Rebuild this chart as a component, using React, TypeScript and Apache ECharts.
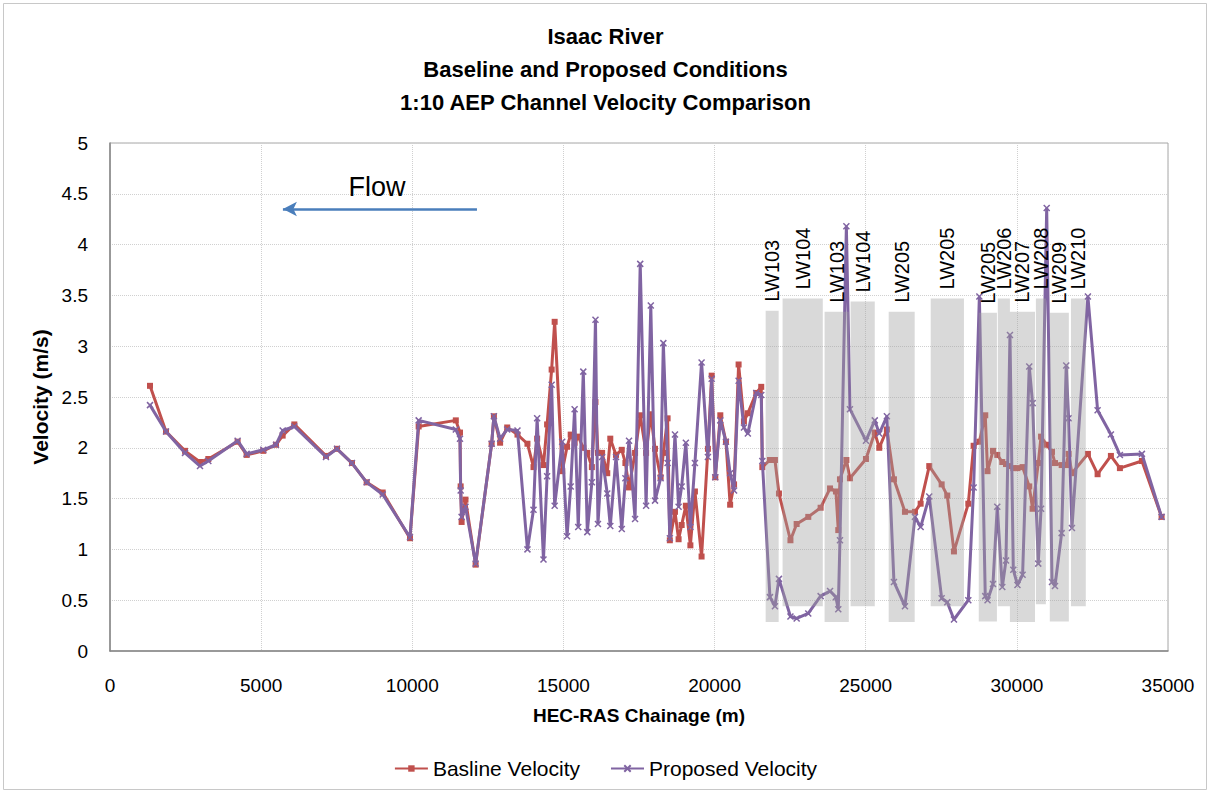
import React, { useEffect, useRef } from "react";
import * as echarts from "echarts";

// HEC-RAS chainage (m) of each cross-section
const CHAINAGE = [
  1323, 1852, 2481, 2977, 3253, 4222, 4520, 5072, 5491, 5712,
  6098, 7145, 7509, 8005, 8491, 9021, 9924, 10211, 11440, 11578,
  11600, 11632, 11760, 12095, 12625, 12700, 12905, 13140, 13480, 13810,
  14010, 14130, 14340, 14460, 14610, 14710, 14960, 15120, 15240, 15370,
  15490, 15657, 15790, 15941, 16060, 16142, 16280, 16450, 16550, 16740,
  16930, 17050, 17170, 17370, 17540, 17735, 17890, 18030, 18215, 18305,
  18446, 18520, 18690, 18810, 18911, 19050, 19200, 19350, 19570, 19780,
  19905, 20023, 20190, 20376, 20515, 20645, 20795, 20971, 21100, 21380,
  21544, 21580, 21832, 21997, 22130, 22510, 22715, 23100, 23508, 23820,
  24015, 24092, 24148, 24360, 24478, 25008, 25300, 25448, 25700, 25934,
  26298, 26629, 26817, 27102, 27512, 27698, 27919, 28394, 28570, 28760,
  28955, 29030, 29210, 29352, 29518, 29640, 29772, 29882, 30020, 30190,
  30410, 30521, 30708, 30800, 30987, 31163, 31261, 31482, 31633, 31712,
  31822, 32350, 32671, 33111, 33409, 34137, 34788,
];

const BASELINE = [
  2.61, 2.16, 1.97, 1.86, 1.89, 2.06, 1.93, 1.97, 2.03, 2.12,
  2.23, 1.92, 1.99, 1.85, 1.66, 1.56, 1.11, 2.21, 2.27, 2.15,
  1.62, 1.27, 1.49, 0.85, 2.04, 2.31, 2.05, 2.2, 2.13, 2.04,
  1.81, 2.09, 1.83, 2.23, 2.77, 3.24, 1.77, 2.01, 2.13, 2.05,
  2.11, 2.0, 1.95, 1.81, 2.45, 1.95, 1.95, 1.75, 2.09, 1.93,
  1.98, 1.85, 1.61, 1.95, 2.32, 1.95, 2.33, 1.99, 1.71, 1.95,
  2.29, 1.09, 1.37, 1.1, 1.24, 1.43, 1.04, 1.57, 0.93, 1.99,
  2.71, 1.71, 2.32, 2.06, 1.44, 1.64, 2.82, 2.26, 2.34, 2.54,
  2.6, 1.81, 1.88, 1.88, 1.55, 1.09, 1.25, 1.32, 1.41, 1.6,
  1.57, 1.19, 1.69, 1.88, 1.7, 1.89, 2.15, 2.0, 2.18, 1.69,
  1.37, 1.37, 1.45, 1.82, 1.64, 1.53, 0.98, 1.45, 2.02, 2.06,
  2.32, 1.77, 1.97, 1.93, 1.86, 1.84, 1.82, 1.8, 1.8, 1.81,
  1.62, 1.4, 1.85, 2.11, 2.03, 1.96, 1.85, 1.83, 1.83, 1.94,
  1.75, 1.94, 1.74, 1.92, 1.8, 1.87, 1.32,
];

const PROPOSED = [
  2.42, 2.16, 1.95, 1.82, 1.87, 2.07, 1.94, 1.98, 2.03, 2.17,
  2.21, 1.91, 1.99, 1.85, 1.66, 1.54, 1.12, 2.27, 2.18, 2.09,
  1.58, 1.32, 1.42, 0.86, 2.04, 2.31, 2.09, 2.18, 2.17, 1.0,
  1.39, 2.29, 0.9, 1.72, 2.62, 1.43, 2.06, 1.13, 1.62, 2.38,
  1.22, 2.75, 1.17, 1.66, 3.26, 1.25, 1.91, 1.55, 1.23, 1.91,
  1.2, 1.7, 2.07, 1.3, 3.81, 1.43, 3.4, 1.48, 1.7, 3.03,
  1.85, 1.11, 2.13, 1.42, 1.62, 2.05, 1.22, 1.85, 2.84, 1.91,
  2.68, 1.71, 2.27, 2.06, 1.75, 1.58, 2.66, 2.2, 2.14, 2.54,
  2.52, 1.87, 0.53, 0.44, 0.71, 0.34, 0.32, 0.37, 0.54, 0.59,
  0.53, 0.41, 1.09, 4.18, 2.38, 2.07, 2.27, 2.14, 2.31, 0.68,
  0.44, 1.32, 1.22, 1.52, 0.52, 0.48, 0.31, 0.5, 1.61, 3.49,
  0.54, 0.5, 0.66, 1.42, 0.63, 0.89, 3.11, 0.8, 0.65, 0.75,
  2.8, 2.44, 0.86, 1.4, 4.36, 0.68, 0.64, 1.16, 2.81, 2.29,
  1.21, 3.49, 2.37, 2.13, 1.93, 1.94, 1.32,
];

// Longwall panel zones (chainage range and shaded height)
const ZONE_START = [21690, 22250, 23640, 24500, 25760, 27150, 28740, 29370, 29770, 30630, 31090, 31790];
const ZONE_END = [22120, 23580, 24440, 25300, 26620, 28250, 29340, 29770, 30600, 30960, 31720, 32280];
const ZONE_BOTTOM = [0.285, 0.44, 0.285, 0.44, 0.285, 0.44, 0.29, 0.44, 0.285, 0.46, 0.29, 0.44];
const ZONE_TOP = [3.35, 3.47, 3.34, 3.44, 3.34, 3.47, 3.33, 3.47, 3.34, 3.47, 3.33, 3.47];
const ZONE_LABELS = ["LW103", "LW104", "LW103", "LW104", "LW205", "LW205", "LW205", "LW206", "LW207", "LW208", "LW209", "LW210"];

// Flow direction annotation
const FLOW_FROM = [12140, 4.35];
const FLOW_TO = [5720, 4.35];
const FLOW_TEXT_AT = [8830, 4.57];

const RED = "#C0504D";
const PURPLE = "#8064A2";
const FONT = "'Liberation Sans', Arial, sans-serif";

export default function App() {
  const ref = useRef<HTMLDivElement>(null);

  useEffect(() => {
    document.body.style.margin = "0";
    const chart = echarts.init(ref.current!, null, { renderer: "svg" });

    const option: any = {
      animation: false,
      backgroundColor: "#ffffff",
      textStyle: { fontFamily: FONT },
      title: {
        text: "Isaac River\nBaseline and Proposed Conditions\n1:10 AEP Channel Velocity Comparison",
        left: "center",
        top: 15,
        textStyle: { fontFamily: FONT, fontSize: 22, fontWeight: "bold", lineHeight: 33, color: "#000" },
      },
      graphic: [
        {
          type: "rect",
          shape: { x: 3.5, y: 3.5, width: 1203, height: 786 },
          style: { fill: "none", stroke: "#c8c8c8", lineWidth: 1 },
          silent: true,
        },
      ],
      legend: {
        data: ["Basline Velocity", "Proposed Velocity"],
        top: 753,
        left: "center",
        itemWidth: 33,
        itemHeight: 8,
        itemGap: 30,
        textStyle: { fontFamily: FONT, fontSize: 21, color: "#000" },
      },
      grid: {
        left: 110,
        right: 43,
        top: 143,
        bottom: 143,
        show: true,
        borderColor: "#a6a6a6",
        borderWidth: 1,
      },
      xAxis: {
        type: "value",
        min: 0,
        max: 35000,
        interval: 5000,
        name: "HEC-RAS Chainage (m)",
        nameLocation: "middle",
        nameGap: 55,
        nameTextStyle: { fontFamily: FONT, fontSize: 19, fontWeight: "bold", color: "#000" },
        axisLine: { show: true, lineStyle: { color: "#868686", width: 1.5 } },
        axisTick: { show: false },
        axisLabel: { fontSize: 19, color: "#000", margin: 25, formatter: (v: number) => String(v) },
        splitLine: { show: true, lineStyle: { color: "#d0d0d0", type: "dotted", width: 1 } },
      },
      yAxis: {
        type: "value",
        min: 0,
        max: 5,
        interval: 0.5,
        name: "Velocity (m/s)",
        nameLocation: "middle",
        nameGap: 58,
        nameTextStyle: { fontFamily: FONT, fontSize: 21, fontWeight: "bold", color: "#000" },
        axisLine: { show: true, lineStyle: { color: "#868686", width: 1.5 } },
        axisTick: { show: false },
        axisLabel: { fontSize: 19, color: "#000", margin: 22 },
        splitLine: { show: true, lineStyle: { color: "#d0d0d0", type: "dotted", width: 1 } },
      },
      series: [
        {
          name: "Basline Velocity",
          type: "line",
          z: 2,
          data: CHAINAGE.map((x, i) => [x, BASELINE[i]]),
          symbol: "rect",
          symbolSize: 6,
          showAllSymbol: true,
          lineStyle: { color: RED, width: 3 },
          itemStyle: { color: RED },
        },
        {
          name: "Proposed Velocity",
          type: "line",
          z: 3,
          data: CHAINAGE.map((x, i) => [x, PROPOSED[i]]),
          symbol: "path://M0 0L10 10M10 0L0 10",
          symbolSize: 6,
          showAllSymbol: true,
          lineStyle: { color: PURPLE, width: 3 },
          itemStyle: { color: PURPLE, borderColor: PURPLE, borderWidth: 1.5 },
        },
        {
          name: "zones",
          type: "custom",
          z: 10,
          silent: true,
          clip: false,
          encode: { x: [0, 1], y: [2, 3] },
          data: ZONE_START.map((x0, i) => [x0, ZONE_END[i], ZONE_BOTTOM[i], ZONE_TOP[i]]),
          renderItem: (params: any, api: any) => {
            const i = params.dataIndex;
            const p0 = api.coord([api.value(0), api.value(3)]);
            const p1 = api.coord([api.value(1), api.value(2)]);
            return {
              type: "group",
              children: [
                {
                  type: "rect",
                  shape: { x: p0[0], y: p0[1], width: p1[0] - p0[0], height: p1[1] - p0[1] },
                  style: { fill: "rgba(160,160,160,0.4)" },
                },
                {
                  type: "text",
                  x: (p0[0] + p1[0]) / 2,
                  y: p0[1] - 9,
                  rotation: Math.PI / 2,
                  style: {
                    text: ZONE_LABELS[i],
                    fill: "#000",
                    font: `20px ${FONT}`,
                    align: "left",
                    verticalAlign: "middle",
                  },
                },
              ],
            };
          },
        },
        {
          name: "flow",
          type: "line",
          data: [],
          z: 5,
          markLine: {
            silent: true,
            symbol: ["none", "arrow"],
            symbolSize: [11, 14],
            label: { show: false },
            lineStyle: { color: "#4A7EBB", width: 2.5, type: "solid" },
            data: [[{ coord: FLOW_FROM }, { coord: FLOW_TO }]],
          },
          markPoint: {
            silent: true,
            symbol: "circle",
            symbolSize: 0,
            label: {
              show: true,
              position: "inside",
              formatter: "Flow",
              fontSize: 27,
              fontFamily: FONT,
              color: "#000",
            },
            data: [{ coord: FLOW_TEXT_AT }],
          },
        },
      ],
    };

    chart.setOption(option);
    return () => chart.dispose();
  }, []);

  return <div ref={ref} style={{ width: 1211, height: 794 }} />;
}
